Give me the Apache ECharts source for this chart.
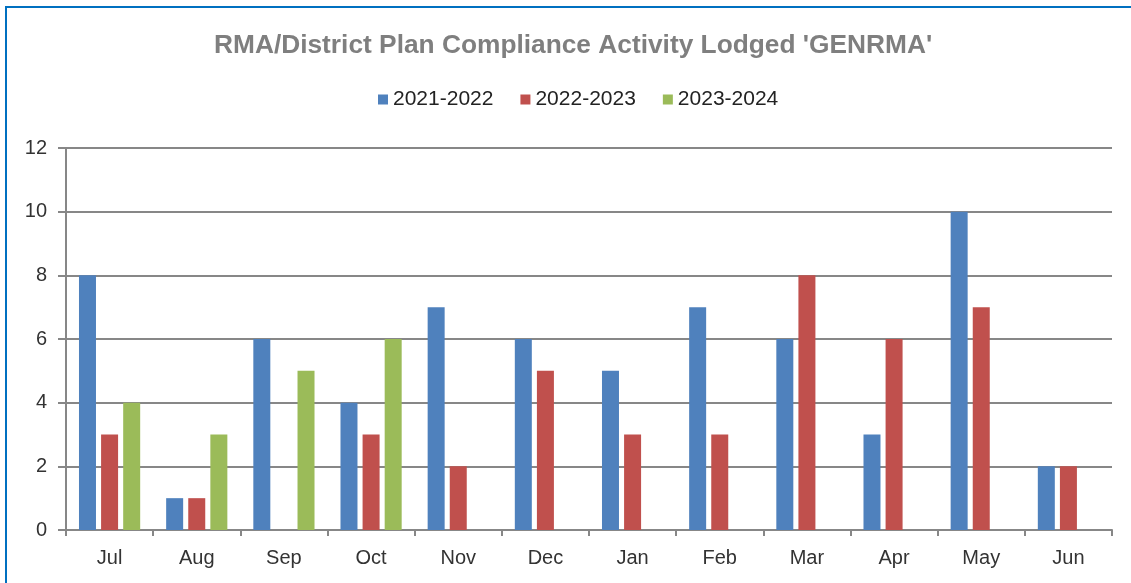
<!DOCTYPE html>
<html>
<head>
<meta charset="utf-8">
<script src="https://cdn.jsdelivr.net/npm/echarts@6/dist/echarts.min.js"></script>
<style>
  html, body { margin: 0; padding: 0; background: #fff; }
  #chart { width: 1131px; height: 583px; }
  #frame {
    position: absolute; left: 5px; top: 6px; right: -5px; bottom: -5px;
    border-top: 2px solid #0070C0; border-left: 2px solid #0070C0;
    pointer-events: none;
  }
</style>
</head>
<body>
<div id="chart"></div>
<div id="frame"></div>
<script>
const months = ["Jul", "Aug", "Sep", "Oct", "Nov", "Dec", "Jan", "Feb", "Mar", "Apr", "May", "Jun"];
const fy2122 = [8, 1, 6, 4, 7, 6, 5, 7, 6, 3, 10, 2];
const fy2223 = [3, 1, null, 3, 2, 5, 3, 3, 8, 6, 7, 2];
const fy2324 = [4, 3, 5, 6, null, null, null, null, null, null, null, null];

const font = "'Liberation Sans', Arial, sans-serif";
const gridGray = "#878787";

const myChart = echarts.init(document.getElementById("chart"));
myChart.setOption({
  animation: false,
  color: ["#4F81BD", "#C0504D", "#9BBB59"],
  title: {
    text: "RMA/District Plan Compliance Activity Lodged 'GENRMA'",
    left: 209,
    top: 28,
    textStyle: { fontFamily: font, fontSize: 26.3, fontWeight: "bold", color: "#7F7F7F" }
  },
  legend: {
    top: 84,
    left: 373,
    itemWidth: 10,
    itemHeight: 10,
    itemGap: 27,
    icon: "rect",
    textStyle: { fontFamily: font, fontSize: 21, color: "#222" }
  },
  grid: { left: 66, right: 19, top: 148, bottom: 53 },
  xAxis: {
    type: "category",
    data: months,
    axisLine: { lineStyle: { color: gridGray, width: 2 } },
    axisTick: { show: true, length: 6, lineStyle: { color: gridGray, width: 2 } },
    axisLabel: { fontFamily: font, fontSize: 20, color: "#333", margin: 18 }
  },
  yAxis: {
    type: "value",
    min: 0,
    max: 12,
    interval: 2,
    axisLine: { show: true, lineStyle: { color: gridGray, width: 2 } },
    axisTick: { show: true, length: 8, lineStyle: { color: gridGray, width: 2 } },
    splitLine: { lineStyle: { color: gridGray, width: 2 } },
    axisLabel: { fontFamily: font, fontSize: 20, color: "#333", margin: 19 }
  },
  series: [
    { name: "2021-2022", type: "bar", data: fy2122, barWidth: 17, barGap: "30%" },
    { name: "2022-2023", type: "bar", data: fy2223, barWidth: 17, barGap: "30%" },
    { name: "2023-2024", type: "bar", data: fy2324, barWidth: 17, barGap: "30%" }
  ]
});
</script>
</body>
</html>
